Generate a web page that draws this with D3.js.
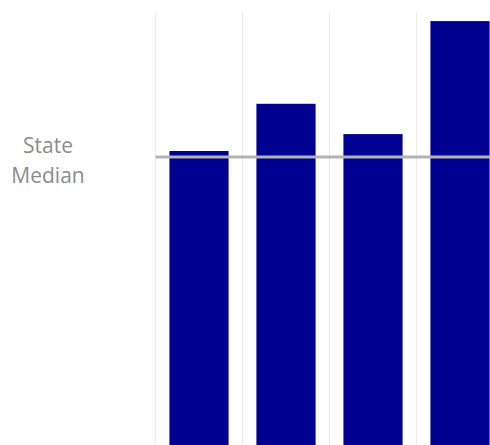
<!DOCTYPE html>
<html>
<head>
<meta charset="utf-8">
<script src="https://cdn.jsdelivr.net/npm/d3@7"></script>
<style>
  html, body { margin: 0; padding: 0; background: #ffffff; }
  svg { display: block; }
</style>
</head>
<body>
<svg id="chart" width="490" height="445"></svg>
<script>
const categories = ["A", "B", "C", "D"];
const values = [67.9, 78.8, 71.8, 97.9];
const stateMedian = 66.5;
const medianLabel = ["State", "Median"];

const svg = d3.select("#chart");
const W = 490, H = 445;

const x = d3.scaleBand()
  .domain(categories)
  .range([155.5, 155.5 + 4 * 87])
  .paddingInner(0.32)
  .paddingOuter(0.16);

const y = d3.scaleLinear().domain([0, 100]).range([H, 12]);

// vertical gridlines at band boundaries
const step = x.step();
const bounds = categories.map((c, i) => x.range()[0] + i * step);
svg.append("g").selectAll("line").data(bounds).join("line")
  .attr("x1", d => d).attr("x2", d => d)
  .attr("y1", y(100)).attr("y2", H)
  .attr("stroke", "#ebebeb").attr("stroke-width", 1.2);

// bars
svg.append("g").selectAll("rect").data(values).join("rect")
  .attr("x", (d, i) => x(categories[i]))
  .attr("width", x.bandwidth())
  .attr("y", d => y(d))
  .attr("height", d => H - y(d))
  .attr("fill", "#000090");

// state median line
svg.append("line")
  .attr("x1", x.range()[0]).attr("x2", W)
  .attr("y1", y(stateMedian)).attr("y2", y(stateMedian))
  .attr("stroke", "#b3b3b3").attr("stroke-width", 3);

// label
const lbl = svg.append("text")
  .attr("text-anchor", "middle")
  .attr("font-family", "'Open Sans', sans-serif")
  .attr("font-size", 21)
  .attr("fill", "#8c8c8c");
lbl.selectAll("tspan").data(medianLabel).join("tspan")
  .attr("x", 48)
  .attr("y", (d, i) => 153 + i * 29.5)
  .text(d => d);
</script>
</body>
</html>
